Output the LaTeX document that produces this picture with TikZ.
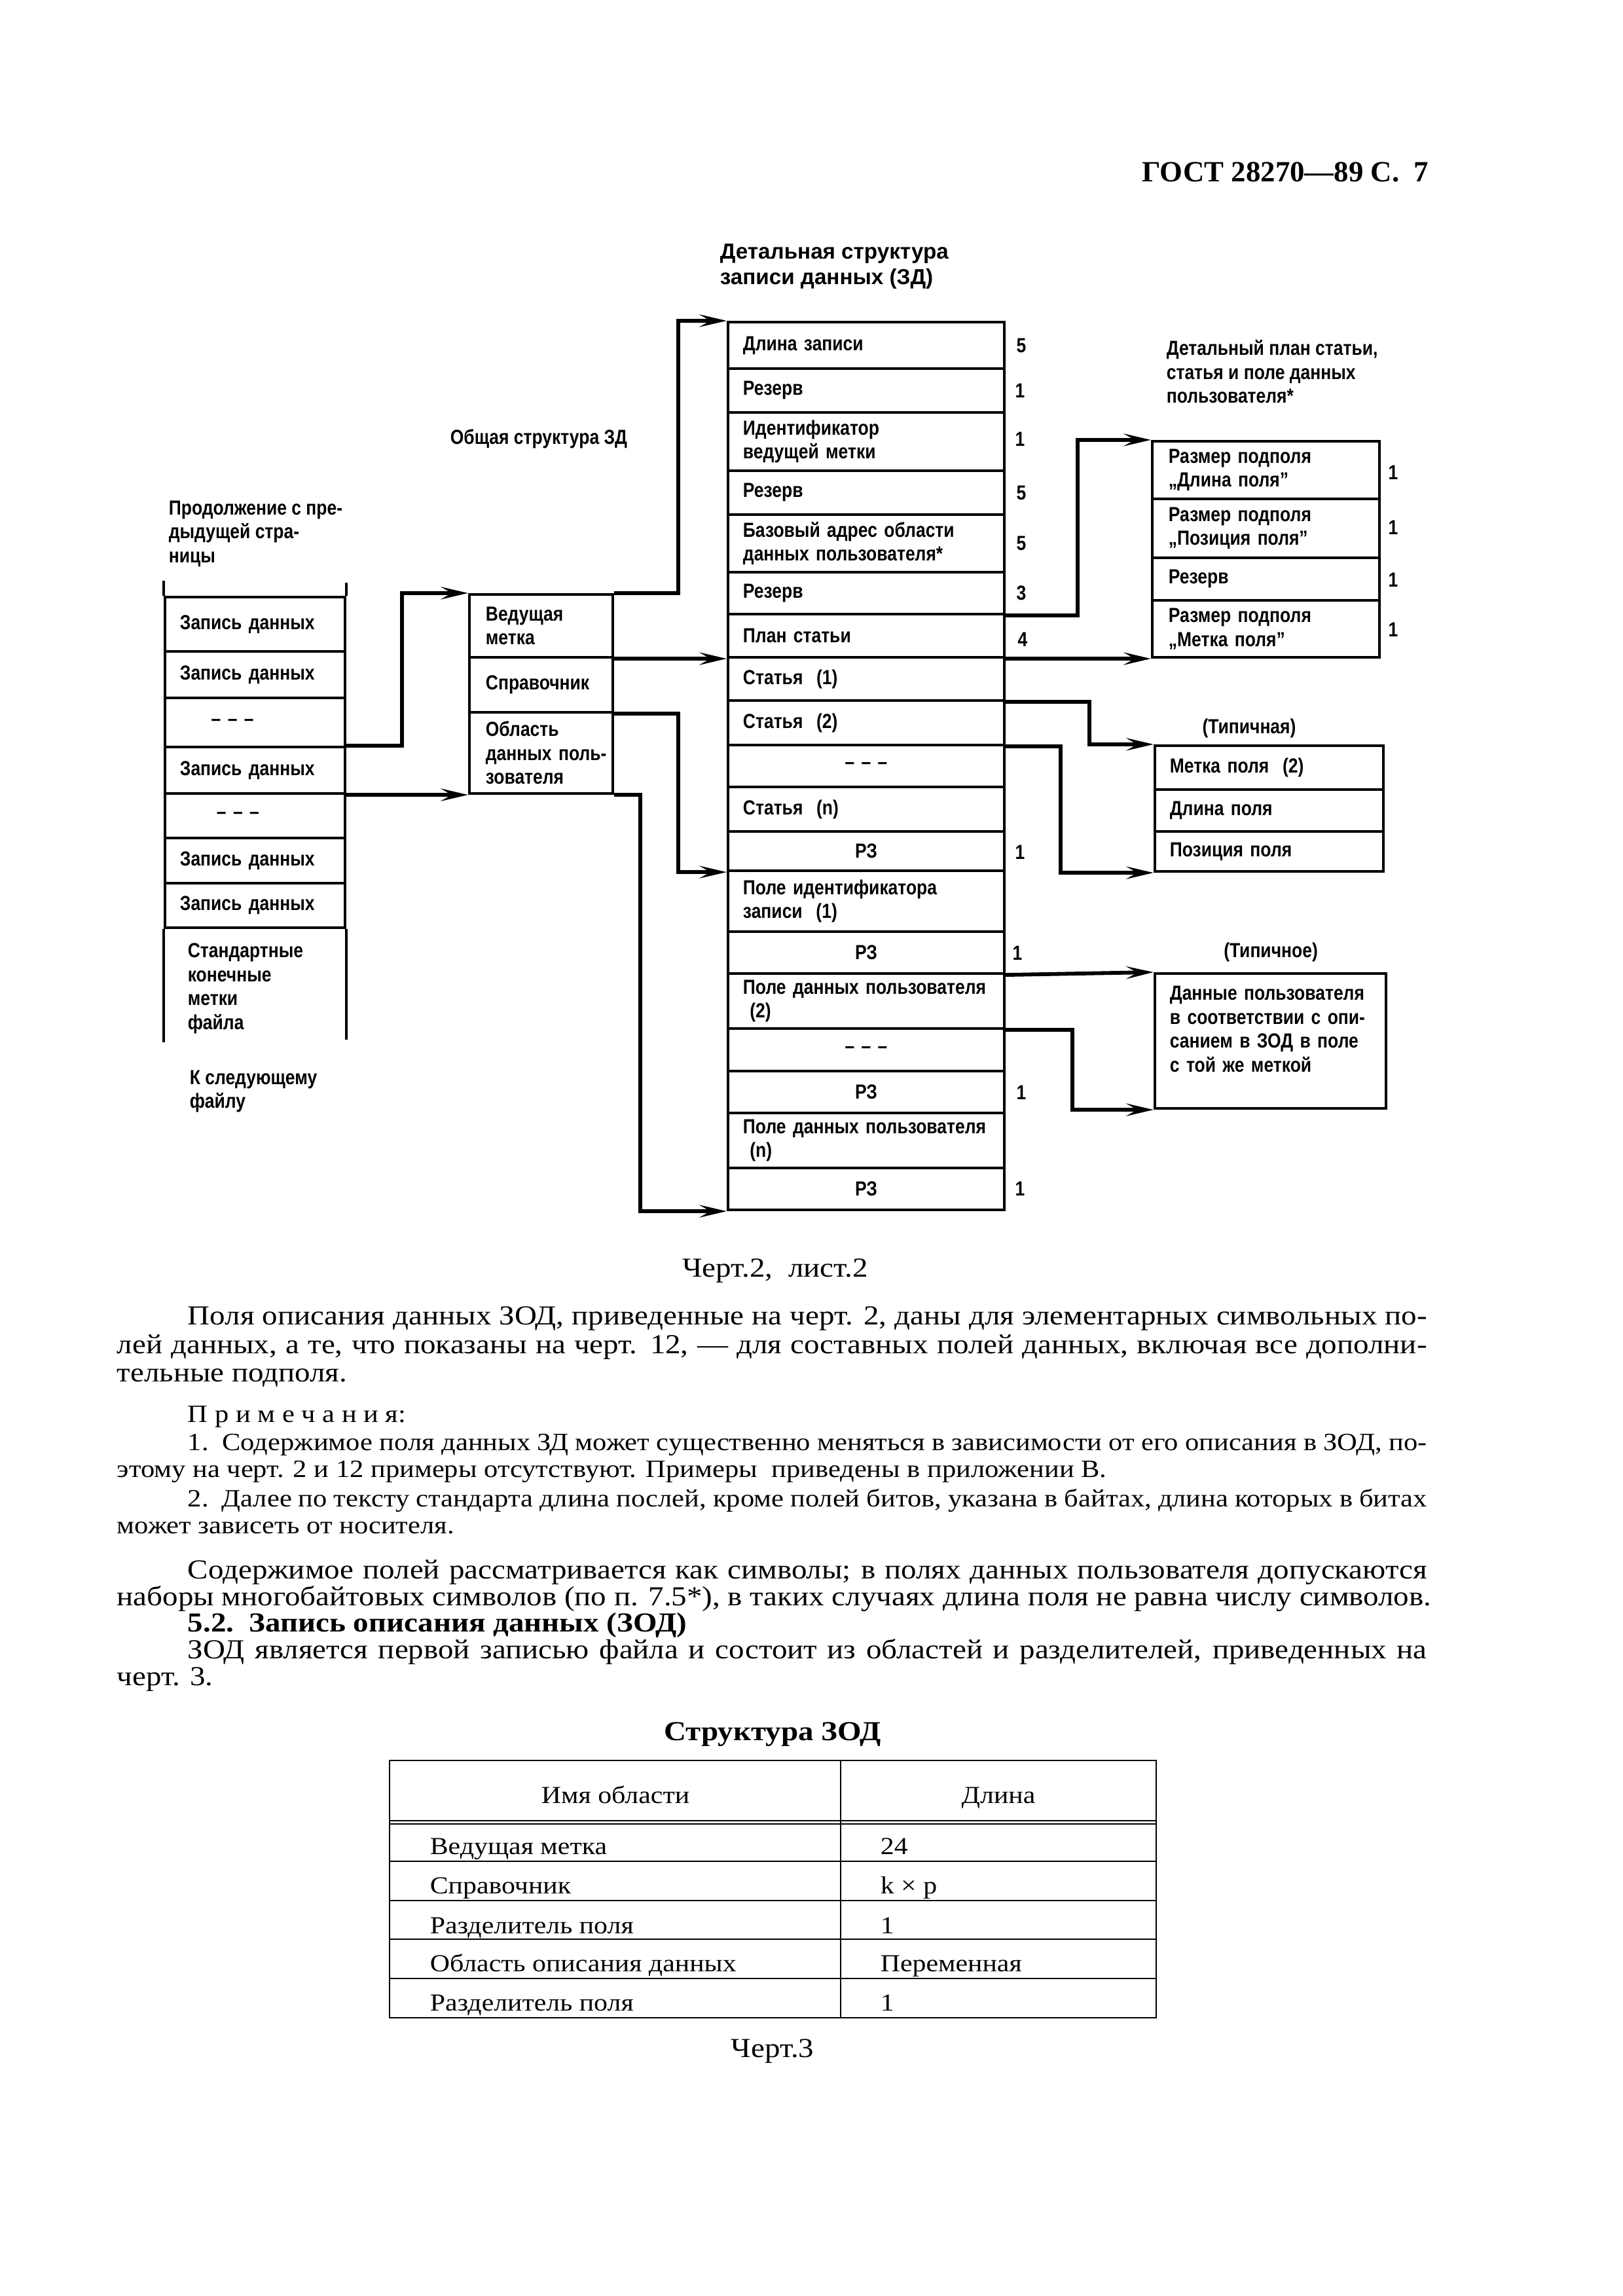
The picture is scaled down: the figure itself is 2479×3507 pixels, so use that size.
\documentclass[tikz,border=0pt]{standalone}
\usepackage{fontspec}
\setmainfont{Liberation Serif}[FakeStretch=1.12]
\newfontfamily\hdrfont{Liberation Serif}
\newfontfamily\diafont{Liberation Sans}[FakeStretch=0.85]
\newfontfamily\wideface{Liberation Sans}
\usetikzlibrary{arrows.meta}
\newcommand{\pxu}{0.2409pt}

\begin{document}
\begin{tikzpicture}[x=0.2409pt,y=-0.2409pt,font=\diafont\bfseries\fontsize{7.5}{8.8}\selectfont]
%% cell and text styles
\tikzstyle{lcell}=[draw,line width=1pt,minimum width=66.25pt,text width=55.2pt,inner xsep=5.5pt,inner ysep=0pt,align=left]
\tikzstyle{gcell}=[draw,line width=1pt,minimum width=52.76pt,text width=40.76pt,inner xsep=6pt,inner ysep=0pt,align=left]
\tikzstyle{dcell}=[draw,line width=1pt,minimum width=101.66pt,text width=90.6pt,inner xsep=5.5pt,inner ysep=0pt,align=left]
\tikzstyle{pcell}=[draw,line width=1pt,minimum width=83.59pt,text width=71.6pt,inner xsep=6pt,inner ysep=0pt,align=left]
\tikzstyle{fcell}=[draw,line width=1pt,minimum width=84.07pt,text width=73.07pt,inner xsep=5.5pt,inner ysep=0pt,align=left]
\tikzstyle{len}=[inner sep=0pt]
\tikzstyle{lbl}=[inner sep=0pt,align=left,anchor=west]
\tikzstyle{link}=[line width=1.4pt,-{Stealth[length=10pt,width=4.6pt,inset=4pt]}]
\tikzstyle{body}=[font=\rmfamily\mdseries\fontsize{10.1}{11}\selectfont,anchor=base west,inner sep=0pt]
\tikzstyle{note}=[font=\rmfamily\mdseries\fontsize{9.15}{10}\selectfont,anchor=base west,inner sep=0pt]
\tikzstyle{tab}=[font=\rmfamily\mdseries\fontsize{9}{10}\selectfont,anchor=base west,inner sep=0pt]
\useasboundingbox (0,0) rectangle (2479,3507);
%HEADER
\node[anchor=base east,inner sep=0pt,font=\hdrfont\bfseries\fontsize{10.8}{13}\selectfont] (hdr) at (2183,277) {ГОСТ 28270—89 С.\ \ 7};
%%%%%%%%%%%%%%%%%%%%%%%%%%%%%%%%%%%%%%%%%%%%%%%%%%%%%%%%%%%%%%%%%%%%%%%%
%captions
\node[lbl,font=\wideface\bfseries\fontsize{8}{9.2}\selectfont] (dettitle) at (1099,407) {Детальная структура\\записи данных (ЗД)};
\node[lbl] (gentitle) at (687,670) {Общая структура ЗД};
\node[lbl] (prev) at (257,815) {Продолжение с пре-\\дыдущей стра-\\ницы};
\node[lbl] (next) at (289,1667) {К следующему\\файлу};
\node[lbl] (plantitle) at (1781,568) {Детальный план статьи,\\статья и поле данных\\пользователя*};
\node[inner sep=0pt] (fldtitle) at (1908,1112) {(Типичная)};
\node[inner sep=0pt] (dattitle) at (1941,1454) {(Типичное)};

%%%%%%%%%%%%%%%%%%%%%%%%%%%%%%%%%%%%%%%%%%%%%%%%%%%%%%%%%%%%%%%%%%%%%%%%
%file
\node[lcell,minimum height=83*\pxu] (lcol1) at (389.5,953.5) {Запись данных};
\node[lcell,minimum height=71*\pxu] (lcol2) at (389.5,1030.5) {Запись данных};
\node[lcell,minimum height=75*\pxu] (lcol3) at (389.5,1103.5) {\hspace*{11.5pt}– – –};
\node[lcell,minimum height=71*\pxu] (lcol4) at (389.5,1176.5) {Запись данных};
\node[lcell,minimum height=68*\pxu] (lcol5) at (389.5,1246) {\hspace*{13.5pt}– – –};
\node[lcell,minimum height=69*\pxu] (lcol6) at (389.5,1314.5) {Запись данных};
\node[lcell,minimum height=68*\pxu] (lcol7) at (389.5,1383) {Запись данных};
\node[lbl] (lend) at (286,1510) {Стандартные\\конечные\\метки\\файла};
\draw[line width=1pt] (lcol1.north west) -- ++(0,-23);
\draw[line width=1pt] (lcol1.north east) -- ++(0,-20);
\draw[line width=1pt] (lcol7.south west) -- ++(0,173);
\draw[line width=1pt] (lcol7.south east) -- ++(0,169);

%record
\node[gcell,minimum height=96*\pxu] (gen1) at (826.5,956) {Ведущая\\метка};
\node[gcell,minimum height=84*\pxu] (gen2) at (826.5,1046) {Справочник};
\node[gcell,minimum height=124*\pxu] (gen3) at (826.5,1150) {Область\\\mbox{данных поль-}\\зователя};

%detail
\node[dcell,minimum height=71*\pxu] (det1) at (1323,527.5) {Длина записи};
\node[dcell,minimum height=67*\pxu] (det2) at (1323,596.5) {Резерв};
\node[dcell,minimum height=89*\pxu] (det3) at (1323,674.5) {Идентификатор\\\mbox{ведущей метки}};
\node[dcell,minimum height=67*\pxu] (det4) at (1323,752.5) {Резерв};
\node[dcell,minimum height=88*\pxu] (det5) at (1323,830) {\mbox{Базовый адрес области}\\\mbox{данных пользователя*}};
\node[dcell,minimum height=64*\pxu] (det6) at (1323,906) {Резерв};
\node[dcell,minimum height=66*\pxu] (det7) at (1323,971) {План статьи};
\node[dcell,minimum height=66*\pxu] (det8) at (1323,1037) {Статья\ \ (1)};
\node[dcell,minimum height=68*\pxu] (det9) at (1323,1104) {Статья\ \ (2)};
\node[dcell,minimum height=64*\pxu,align=center] (det10) at (1323,1170) {– – –};
\node[dcell,minimum height=68*\pxu] (det11) at (1323,1236) {Статья\ \ (n)};
\node[dcell,minimum height=60*\pxu,align=center] (det12) at (1323,1300) {РЗ};
\node[dcell,minimum height=93*\pxu] (det13) at (1323,1376.5) {\mbox{Поле идентификатора}\\записи\ \ (1)};
\node[dcell,minimum height=64*\pxu,align=center] (det14) at (1323,1455) {РЗ};
\node[dcell,minimum height=84*\pxu] (det15) at (1323,1529) {\mbox{Поле данных пользователя}\\\ (2)};
\node[dcell,minimum height=65*\pxu,align=center] (det16) at (1323,1603.5) {– – –};
\node[dcell,minimum height=64*\pxu,align=center] (det17) at (1323,1668) {РЗ};
\node[dcell,minimum height=84*\pxu] (det18) at (1323,1742) {\mbox{Поле данных пользователя}\\\ (n)};
\node[dcell,minimum height=64*\pxu,align=center] (det19) at (1323,1816) {РЗ};
%lengths
\node[len] (len1) at (1560,527.5) {5};
\node[len] (len2) at (1558,596.5) {1};
\node[len] (len3) at (1558,671) {1};
\node[len] (len4) at (1560,752.5) {5};
\node[len] (len5) at (1560,830) {5};
\node[len] (len6) at (1560,906) {3};
\node[len] (len7) at (1562,977) {4};
\node[len] (len12) at (1558,1302) {1};
\node[len] (len14) at (1554,1456) {1};
\node[len] (len17) at (1560,1669) {1};
\node[len] (len19) at (1558,1816) {1};

%plan
\node[pcell,minimum height=88*\pxu] (plan1) at (1933.5,718) {\mbox{Размер подполя}\\\mbox{„Длина поля”}};
\node[pcell,minimum height=90*\pxu] (plan2) at (1933.5,807) {\mbox{Размер подполя}\\\mbox{„Позиция поля”}};
\node[pcell,minimum height=65*\pxu] (plan3) at (1933.5,884.5) {Резерв};
\node[pcell,minimum height=87*\pxu] (plan4) at (1933.5,960.5) {\mbox{Размер подполя}\\\mbox{„Метка поля”}};
\node[len] (plen1) at (2128,722) {1};
\node[len] (plen2) at (2128,806) {1};
\node[len] (plen3) at (2128,886) {1};
\node[len] (plen4) at (2128,962) {1};

%field
\node[fcell,minimum height=67*\pxu] (fld1) at (1938.5,1172.5) {Метка поля\ \ (2)};
\node[fcell,minimum height=64*\pxu] (fld2) at (1938.5,1238) {Длина поля};
\node[fcell,minimum height=61*\pxu] (fld3) at (1938.5,1300.5) {Позиция поля};
\node[fcell,minimum width=85.04pt,text width=74pt,minimum height=206*\pxu] (dat) at (1940.5,1590) {\mbox{Данные пользователя}\\\mbox{в соответствии с опи-}\\\mbox{санием в ЗОД в поле}\\\mbox{с той же меткой}\\\mbox{}};

%%%%%%%%%%%%%%%%%%%%%%%%%%%%%%%%%%%%%%%%%%%%%%%%%%%%%%%%%%%%%%
%ARROWS
% file -> record
\draw[link] (lcol4.north east) -- ++(85,0) |- (gen1.north west);
\draw[link] (lcol4.south east) -- (gen3.south west);
% record -> detail
\draw[link] (gen1.north east) -- ++(98,0) |- (det1.north west);
\draw[link] (gen1.south east) -- (det7.south west);
\draw[link] (gen2.south east) -- ++(98,0) |- (det12.south west);
\draw[link] (gen3.south east) -- ++(40,0) |- (det19.south west);
% detail -> plan, field, data
\draw[link] (det6.south east) -- ++(110,0) |- (plan1.north west);
\draw[link] (det7.south east) -- (plan4.south west);
\draw[link] (det8.south east) -- ++(128,0) |- (fld1.north west);
\draw[link] (det9.south east) -- ++(84,0) |- (fld3.south west);
\draw[link] (det14.south east) -- (dat.north west);
\draw[link] (det15.south east) -- ++(102,0) |- (dat.south west);

%%%%%%%%%%%%%%%%%%%%%%%%%%%%%%%%%%%%%%%%%%%%%%%%%%%%%%%%%%%%%%
% TEXT
\node[body,anchor=base] (cap2) at (1184,1950) {Черт.2,\ \ лист.2};
\node[body] (pa1) at (286,2023) {\makebox[456pt][s]{Поля описания данных ЗОД, приведенные на черт. 2, даны для элементарных символьных по-}};
\node[body] (pa2) at (178,2067) {\makebox[482pt][s]{лей данных, а те, что показаны на черт. 12, — для составных полей данных, включая все дополни-}};
\node[body] (pa3) at (178,2110) {тельные подполя.};
\node[note] (nt0) at (286,2172) {П р и м е ч а н и я:};
\node[note] (nt1) at (286,2215) {\makebox[456pt][s]{1.\ \ Содержимое поля данных ЗД может существенно меняться в зависимости от его описания в ЗОД, по-}};
\node[note] (nt2) at (178,2256) {этому на черт. 2 и 12 примеры отсутствуют. Примеры\ \ приведены в приложении В.};
\node[note] (nt3) at (286,2301) {\makebox[456pt][s]{2.\ \ Далее по тексту стандарта длина послей, кроме полей битов, указана в байтах, длина которых в битах}};
\node[note] (nt4) at (178,2342) {может зависеть от носителя.};
\node[body] (pc1) at (286,2411) {\makebox[456pt][s]{Содержимое полей рассматривается как символы; в полях данных пользователя допускаются}};
\node[body] (pc2) at (178,2452) {наборы многобайтовых символов (по п. 7.5*), в таких случаях длина поля не равна числу символов.};
\node[body] (sec) at (286,2492) {\textbf{5.2.\ \ Запись описания данных (ЗОД)}};
\node[body] (pd1) at (286,2533) {\makebox[456pt][s]{ЗОД является первой записью файла и состоит из областей и разделителей, приведенных на}};
\node[body] (pd2) at (178,2574) {черт. 3.};

%%%%%%%%%%%%%%%%%%%%%%%%%%%%%%%%%%%%%%%%%%%%%%%%%%%%%%%%%%%%%%
% TABLE
\node[body,anchor=base] (tabtitle) at (1180,2658) {\textbf{Структура ЗОД}};
\draw[line width=0.6pt] (595,2689) rectangle (1766,3082);
\draw[line width=0.6pt] (1284,2689) -- (1284,3082);
\draw[line width=0.5pt] (595,2781) -- (1766,2781);
\draw[line width=0.5pt] (595,2786) -- (1766,2786);
\draw[line width=0.6pt] (595,2843) -- (1766,2843);
\draw[line width=0.6pt] (595,2903) -- (1766,2903);
\draw[line width=0.6pt] (595,2962) -- (1766,2962);
\draw[line width=0.6pt] (595,3022) -- (1766,3022);
\node[tab,anchor=base] (th1) at (940,2754) {Имя области};
\node[tab,anchor=base] (th2) at (1525,2754) {Длина};
\node[tab] (tr1a) at (656,2832) {Ведущая метка};
\node[tab] (tr1b) at (1344,2832) {24};
\node[tab] (tr2a) at (656,2892) {Справочник};
\node[tab] (tr2b) at (1344,2892) {k × p};
\node[tab] (tr3a) at (656,2953) {Разделитель поля};
\node[tab] (tr3b) at (1344,2953) {1};
\node[tab] (tr4a) at (656,3011) {Область описания данных};
\node[tab] (tr4b) at (1344,3011) {Переменная};
\node[tab] (tr5a) at (656,3071) {Разделитель поля};
\node[tab] (tr5b) at (1344,3071) {1};
\node[body,anchor=base] (cap3) at (1180,3142) {Черт.3};
\end{tikzpicture}
\end{document}
